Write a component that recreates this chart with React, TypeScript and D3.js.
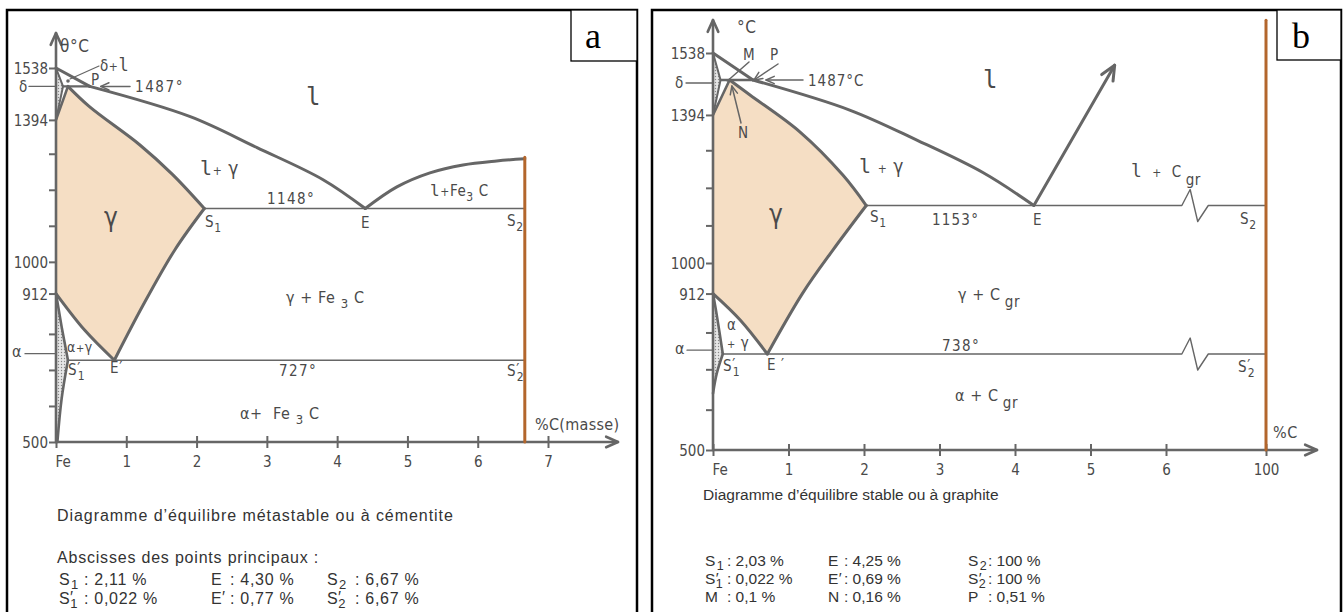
import { useEffect, useRef } from "react";
import * as d3 from "d3";

type Pt = [number, number];
type Part = string | { t: string; dy?: number; dx?: number; size?: number; font?: string };

// ---------- (a) metastable diagram, Fe - Fe3C ----------
const metaCarbonTicks = [0, 1, 2, 3, 4, 5, 6, 7];
const metaCarbonNames = ["Fe", "1", "2", "3", "4", "5", "6", "7"];
const metaTempTicks = [1538, 1394, 1000, 912, 500];
const metaTempMinor = [1300, 1200, 1100, 800, 700, 600];
const metaDelta: Pt[] = [[0, 1538], [0.1, 1487], [0, 1394]];
const metaGammaEdge: Pt[] = [[0, 1394], [0.17, 1487]];
const metaPeritectic: Pt[] = [[0.1, 1487], [0.48, 1487]];
const metaLiquidusTop: Pt[] = [[0, 1538], [0.48, 1487]];
const metaLiquidus: Pt[] = [[0.48, 1487], [1.91, 1403], [2.86, 1317], [3.8, 1228], [4.4, 1148]];
const metaLiquidusFe3C: Pt[] = [[4.4, 1148], [4.85, 1208], [5.32, 1247], [5.79, 1269], [6.27, 1280], [6.67, 1286]];
const metaSolidus: Pt[] = [[0.17, 1487], [0.48, 1430], [1.19, 1325], [1.66, 1242], [2.11, 1148]];
const metaAcm: Pt[] = [[2.11, 1148], [1.69, 1033], [1.24, 880], [0.83, 727]];
const metaA3: Pt[] = [[0, 912], [0.41, 810], [0.83, 727]];
const metaAlphaUpper: Pt[] = [[0, 912], [0.08, 820], [0.17, 727]];
const metaAlphaLower: Pt[] = [[0.17, 727], [0.08, 620], [0.02, 500]];
const metaEutectic: Pt[] = [[2.11, 1148], [6.67, 1148]];
const metaEutectoid: Pt[] = [[0.17, 727], [6.67, 727]];
const metaCementite: Pt[] = [[6.67, 500], [6.67, 1290]];
const metaPoints = [
  ["S", "1", "", ": 2,11 %"], ["E", "", "", ": 4,30 %"], ["S", "2", "", ": 6,67 %"],
  ["S", "1", "′", ": 0,022 %"], ["E", "", "′", ": 0,77 %"], ["S", "2", "′", ": 6,67 %"],
];

// ---------- (b) stable diagram, Fe - graphite ----------
const stableCarbonTicks = [0, 1, 2, 3, 4, 5, 6, 100];
const stableCarbonNames = ["Fe", "1", "2", "3", "4", "5", "6", "100"];
const stableTempTicks = [1538, 1394, 1000, 912, 500];
const stableTempMinor = [1300, 1200, 1100, 800, 700, 600];
const stableDelta: Pt[] = [[0, 1538], [0.1, 1487], [0, 1394]];
const stableGammaEdge: Pt[] = [[0, 1394], [0.22, 1487]];
const stablePeritectic: Pt[] = [[0.1, 1487], [0.53, 1487]];
const stableLiquidusTop: Pt[] = [[0, 1538], [0.53, 1487]];
const stableLiquidus: Pt[] = [[0.53, 1487], [1.81, 1407], [2.7, 1327], [3.58, 1240], [4.25, 1153]];
const stableLiquidusGraphite: Pt[] = [[4.25, 1153], [5.32, 1515]];
const stableSolidus: Pt[] = [[0.22, 1487], [0.49, 1447], [1.15, 1349], [1.72, 1234], [2.03, 1153]];
const stableAcm: Pt[] = [[2.03, 1153], [1.59, 1035], [1.19, 914], [0.72, 738]];
const stableA3: Pt[] = [[0, 912], [0.36, 836], [0.72, 738]];
const stableAlphaUpper: Pt[] = [[0, 912], [0.05, 850], [0.13, 738]];
const stableAlphaLower: Pt[] = [[0.13, 738], [0.05, 690], [0, 640]];
const stableEutectic: Pt[] = [[2.03, 1153], [100, 1153]];
const stableEutectoid: Pt[] = [[0.13, 738], [100, 738]];
const stableBreak = [6.21, 6.32, 6.42, 6.56];
const stableGraphite: Pt[] = [[100, 500], [100, 1600]];
const stablePoints = [
  ["S", "1", "", ": 2,03 %"], ["E", "", "", ": 4,25 %"], ["S", "2", "", ": 100 %"],
  ["S", "1", "′", ": 0,022 %"], ["E", "", "′", ": 0,69 %"], ["S", "2", "′", ": 100 %"],
  ["M", "", "", ": 0,1 %"], ["N", "", "", ": 0,16 %"], ["P", "", "", ": 0,51 %"],
];

const FONT = "'DejaVu Sans Condensed', 'DejaVu Sans', sans-serif";
const MONO = "'DejaVu Sans Mono', monospace";
const CAPTION = "'Liberation Sans', Arial, sans-serif";
const INK = "#4a4a4a";
const LINE = "#666";
const TAN = "#f5dec4";
const BROWN = "#b3662c";

const sub = (t: string, size = 12, dy = 5): Part => ({ t, dy, size });
const ell = (size?: number): Part => ({ t: "l", font: MONO, size });

function label(g: any, x: number, y: number, parts: Part[], size = 15, font = FONT, fill = INK, spacing = 0.6) {
  const t = g.append("text").attr("x", x).attr("y", y).attr("font-family", font)
    .attr("font-size", size).attr("fill", fill).attr("letter-spacing", spacing)
    .style("white-space", "pre");
  let shift = 0;
  parts.forEach((p) => {
    const q = typeof p === "string" ? { t: p } : p;
    const s = t.append("tspan").attr("dy", (q.dy ?? 0) - shift).text(q.t);
    if (q.dx) s.attr("dx", q.dx);
    if (q.size) s.attr("font-size", q.size);
    if (q.font) s.attr("font-family", q.font);
    shift = q.dy ?? 0;
  });
  return t;
}

function path(g: any, d: string | null, w: number, color = LINE, fill = "none") {
  return g.append("path").attr("d", d ?? "").attr("fill", fill).attr("stroke", color)
    .attr("stroke-width", w).attr("stroke-linejoin", "round").attr("stroke-linecap", "round");
}

function arrowHead(g: any, tx: number, ty: number, angle: number, len = 10, w = 2) {
  const s = 0.42;
  const p1 = [tx - len * Math.cos(angle - s), ty - len * Math.sin(angle - s)];
  const p2 = [tx - len * Math.cos(angle + s), ty - len * Math.sin(angle + s)];
  path(g, `M${p1[0]},${p1[1]}L${tx},${ty}L${p2[0]},${p2[1]}`, w);
}

function arrow(g: any, from: number[], to: number[], w = 1.5, len = 9) {
  path(g, `M${from[0]},${from[1]}L${to[0]},${to[1]}`, w);
  arrowHead(g, to[0], to[1], Math.atan2(to[1] - from[1], to[0] - from[0]), len, w);
}

function gens(x: any, y: any) {
  const straight = d3.line<Pt>().x((d) => x(d[0])).y((d) => y(d[1]));
  const smooth = d3.line<Pt>().x((d) => x(d[0])).y((d) => y(d[1])).curve(d3.curveCatmullRom.alpha(0.5));
  return { line: (p: Pt[]) => straight(p) as string, curve: (p: Pt[]) => smooth(p) as string };
}

const closed = (parts: string[]) => parts.map((p, i) => (i ? p.replace(/^M/, "L") : p)).join("") + "Z";

function frame(g: any, left: number, right: number, boxLeft: number, boxBottom: number, letter: string, letterX: number) {
  g.append("rect").attr("x", left).attr("y", 10).attr("width", right - left).attr("height", 640)
    .attr("fill", "#fff").attr("stroke", "#000").attr("stroke-width", 2.5);
  g.append("rect").attr("x", boxLeft).attr("y", 10).attr("width", right - boxLeft).attr("height", boxBottom - 10)
    .attr("fill", "#fff").attr("stroke", "#000").attr("stroke-width", 1.3);
  g.append("text").attr("x", letterX).attr("y", 48).attr("font-family", "'Liberation Serif', serif")
    .attr("font-size", 36).attr("fill", "#000").text(letter);
}

function axes(g: any, x: any, y: any, carbon: number[], names: string[], temps: number[], minor: number[], tipTop: number, tipRight: number) {
  const x0 = x(0), y0 = y(500);
  const left = g.append("g").attr("transform", `translate(${x0},0)`)
    .call(d3.axisLeft(y).tickValues(temps).tickSize(7).tickFormat(d3.format("d") as any));
  const small = g.append("g").attr("transform", `translate(${x0},0)`)
    .call(d3.axisLeft(y).tickValues(minor).tickSize(7).tickFormat(() => ""));
  const bottom = g.append("g").attr("transform", `translate(0,${y0})`)
    .call(d3.axisBottom(x).tickValues(carbon).tickSize(6).tickFormat((_: any, i: number) => names[i]));
  [left, small, bottom].forEach((a: any) => {
    a.select(".domain").remove();
    a.selectAll("line").attr("stroke", LINE).attr("stroke-width", 2);
    a.selectAll("text").attr("font-family", FONT).attr("font-size", 15).attr("fill", INK);
  });
  left.selectAll("text").attr("x", -8).attr("dy", "0.37em");
  bottom.selectAll("line").attr("y1", -6).attr("y2", 6);
  bottom.selectAll("text").attr("y", 25).attr("dy", 0);
  bottom.selectAll("text").filter((_: any, i: number) => i === 0).attr("text-anchor", "start").attr("x", -1);
  path(g, `M${x0},${y0}V${tipTop}M${x0},${y0}H${tipRight}`, 2.6);
  arrowHead(g, x0, tipTop, -Math.PI / 2, 13, 2.6);
  arrowHead(g, tipRight, y0, 0, 13, 2.6);
}

function pointTable(g: any, pts: string[][], cols: number[], colon: number[], top: number, step: number, size: number, spacing: number) {
  pts.forEach((p, i) => {
    const c = i % 3, row = Math.floor(i / 3);
    const yy = top + row * step;
    const parts: Part[] = [p[0]];
    if (p[2]) parts.push({ t: p[2], dy: -1 });
    if (p[1]) parts.push({ t: p[1], dy: 4, dx: p[2] ? -3 : 1, size: size - 3 });
    label(g, cols[c], yy, parts, size, CAPTION, "#333", 0.3);
    label(g, cols[c] + colon[c], yy, [p[3]], size, CAPTION, "#333", spacing);
  });
}

function drawMeta(g: any) {
  const x = d3.scaleLinear().domain([0, 7]).range([56, 548]);
  const y = d3.scaleLinear().domain([500, 1538]).range([442, 68]);
  const { line, curve } = gens(x, y);
  frame(g, 7, 637, 571, 61, "a", 585);

  path(g, closed([line(metaGammaEdge), curve(metaSolidus), curve(metaAcm), curve([...metaA3].reverse()), line([[0, 912], [0, 1394]])]), 0, "none", TAN);
  path(g, closed([line(metaAlphaUpper), curve(metaAlphaLower), line([[0, 500], [0, 912]])]), 0, "none", "url(#dots)");
  path(g, closed([line(metaDelta)]), 0, "none", "url(#dots)");

  path(g, line(metaEutectic), 1.4);
  path(g, line(metaEutectoid), 1.4);

  path(g, line(metaLiquidusTop), 3);
  path(g, curve(metaLiquidus), 3);
  path(g, curve(metaLiquidusFe3C), 3);
  path(g, curve(metaSolidus), 3);
  path(g, curve(metaAcm), 3);
  path(g, curve(metaA3), 3);
  path(g, line(metaAlphaUpper), 2.6);
  path(g, curve(metaAlphaLower), 2.6);
  path(g, line(metaGammaEdge), 2.6);
  path(g, line(metaDelta), 2);
  path(g, line(metaPeritectic), 2.4);

  axes(g, x, y, metaCarbonTicks, metaCarbonNames, metaTempTicks, metaTempMinor, 33, 618);
  path(g, line(metaCementite), 3, BROWN);

  const yp = y(1487);
  label(g, 60, 52, ["θ°C"], 17);
  label(g, 19, yp + 6, ["δ"]);
  path(g, `M29,${yp}H${x(0)}`, 1.3);
  g.append("circle").attr("cx", 68).attr("cy", 81).attr("r", 1.8).attr("fill", LINE);
  path(g, "M70,79L99,66", 1.2);
  label(g, 100, 71, ["δ", { t: "+", size: 12 }, ell(17)]);
  label(g, 91, yp - 1, ["P"]);
  arrow(g, [130, yp], [x(0.48) + 11, yp]);
  label(g, 135, yp + 6, ["1487°"], 15, FONT, INK, 1.6);
  label(g, 306, 105, [ell(24)], 22);
  label(g, 200, 175, [ell(20), { t: "+", size: 12 }, " γ"], 19);
  label(g, 267, 204, ["1148°"], 15, FONT, INK, 1.4);
  label(g, 104, 226, ["γ"], 26);
  label(g, 205, 227, ["S", sub("1")]);
  label(g, 361, 228, ["E"]);
  label(g, 507, 226, ["S", sub("2")]);
  label(g, 430, 196, [ell(16), { t: "+", size: 12 }, "Fe", sub("3"), { t: " C" }]);
  label(g, 286, 303, ["γ + Fe ", sub("3", 13), { t: " C" }], 16);
  label(g, 67, 352, ["α", { t: "+", size: 11 }, "γ"], 14);
  label(g, 12, 357, ["α"], 16);
  path(g, `M25,${y(745)}H${x(0)}`, 1.3);
  label(g, 68, 375, ["S", { t: "′", dy: -1 }, { t: "1", dy: 5, dx: -3, size: 12 }]);
  label(g, 110, 373, ["E′"]);
  label(g, 279, 376, ["727°"], 15, FONT, INK, 1.4);
  label(g, 507, 376, ["S", { t: "′", dy: -1 }, { t: "2", dy: 5, dx: -3, size: 12 }]);
  label(g, 240, 419, ["α+  Fe ", sub("3", 13), { t: " C" }], 16);
  label(g, 535, 430, ["%C(masse)"], 16, FONT, INK, 0.3);

  label(g, 57, 521, ["Diagramme d’équilibre métastable ou à cémentite"], 16, CAPTION, "#333", 0.95);
  label(g, 57, 563, ["Abscisses des points principaux :"], 16, CAPTION, "#333", 0.8);
  pointTable(g, metaPoints, [59, 211, 327], [25, 19, 28], 585, 19, 16, 0.7);
}

function drawStable(g: any) {
  const x = d3.scaleLinear().domain([0, 7, 100]).range([713, 1241.5, 1266]);
  const y = d3.scaleLinear().domain([500, 738, 1000, 1487, 1538]).range([450, 354, 263, 80, 53]);
  const { line, curve } = gens(x, y);
  frame(g, 652, 1341, 1277, 60, "b", 1292);

  path(g, closed([line(stableGammaEdge), curve(stableSolidus), curve(stableAcm), curve([...stableA3].reverse()), line([[0, 912], [0, 1394]])]), 0, "none", TAN);
  path(g, closed([curve(stableAlphaUpper), curve(stableAlphaLower), line([[0, 640], [0, 912]])]), 0, "none", "url(#dots)");
  path(g, closed([line(stableDelta)]), 0, "none", "url(#dots)");

  const broken = (pts: Pt[]) => {
    const yy = y(pts[0][1]);
    const b = stableBreak.map((c) => x(c));
    return `M${x(pts[0][0])},${yy}H${b[0]}L${b[1]},${yy - 16}L${b[2]},${yy + 16}L${b[3]},${yy}H${x(pts[1][0])}`;
  };
  path(g, broken(stableEutectic), 1.4);
  path(g, broken(stableEutectoid), 1.4);

  path(g, line(stableLiquidusTop), 3);
  path(g, curve(stableLiquidus), 3);
  const gs = stableLiquidusGraphite.map((d) => [x(d[0]), y(d[1])]);
  arrow(g, gs[0], gs[1], 3, 16);
  path(g, curve(stableSolidus), 3);
  path(g, curve(stableAcm), 3);
  path(g, curve(stableA3), 3);
  path(g, curve(stableAlphaUpper), 2.6);
  path(g, curve(stableAlphaLower), 2.6);
  path(g, line(stableGammaEdge), 2.6);
  path(g, line(stableDelta), 2);
  path(g, line(stablePeritectic), 2.4);

  axes(g, x, y, stableCarbonTicks, stableCarbonNames, stableTempTicks, stableTempMinor, 20, 1317);
  path(g, line(stableGraphite), 3, BROWN);

  const yp = y(1487);
  label(g, 737, 33, ["°C"], 17);
  label(g, 675, yp + 8, ["δ"]);
  path(g, `M686,${yp + 3}H${x(0)}`, 1.3);
  label(g, 743, 60, ["M"]);
  path(g, `M749,62L${x(0.19)},${yp + 1}`, 1.5);
  label(g, 770, 60, ["P"]);
  arrow(g, [778, 64], [x(0.53) + 1, yp], 1.5);
  arrow(g, [803, yp], [x(0.53) + 13, yp], 1.5);
  label(g, 808, yp + 6, ["1487°C"], 15, FONT, INK, 1);
  label(g, 738, 138, ["N"]);
  arrow(g, [741, 123], [x(0.25), yp + 6], 1.5);
  label(g, 983, 88, [ell(24)], 22);
  label(g, 859, 173, [ell(20), " ", { t: "+", size: 12 }, " γ"], 19);
  label(g, 769, 223, ["γ"], 26);
  label(g, 870, 222, ["S", sub("1")]);
  label(g, 932, 225, ["1153°"], 15, FONT, INK, 1.2);
  label(g, 1033, 225, ["E"]);
  label(g, 1131, 177, [ell(18), "  ", { t: "+", size: 12 }, "  C", { t: "gr", dy: 8, dx: 4 }]);
  label(g, 1240, 224, ["S", sub("2")]);
  label(g, 958, 300, ["γ + C", { t: "gr", dy: 7, dx: 4, size: 15 }], 16);
  label(g, 727, 330, ["α"], 15);
  label(g, 727, 348, [{ t: "+", size: 11 }, " γ"], 15);
  label(g, 675, 354, ["α"], 16);
  path(g, `M687,${y(749)}H${x(0)}`, 1.3);
  label(g, 942, 351, ["738°"], 15, FONT, INK, 1.4);
  label(g, 723, 371, ["S", { t: "′", dy: -1 }, { t: "1", dy: 5, dx: -3, size: 12 }]);
  label(g, 767, 370, ["E ′"]);
  label(g, 1238, 372, ["S", { t: "′", dy: -1 }, { t: "2", dy: 5, dx: -3, size: 12 }]);
  label(g, 955, 401, ["α + C", { t: "gr", dy: 7, dx: 4, size: 15 }], 16);
  label(g, 1273, 438, ["%C"], 16);

  label(g, 703, 500, ["Diagramme d’équilibre stable ou à graphite"], 15.5, CAPTION, "#333", 0);
  pointTable(g, stablePoints, [705, 828, 968], [22, 16, 20], 566, 18, 15.5, 0);
}

export default function App() {
  const ref = useRef<SVGSVGElement>(null);
  useEffect(() => {
    const svg = d3.select(ref.current);
    svg.selectAll("*").remove();
    const pat = svg.append("defs").append("pattern").attr("id", "dots")
      .attr("width", 3).attr("height", 3).attr("patternUnits", "userSpaceOnUse");
    pat.append("rect").attr("width", 3).attr("height", 3).attr("fill", "#e6e6e6");
    pat.append("circle").attr("cx", 1.5).attr("cy", 1.5).attr("r", 0.7).attr("fill", "#888");
    drawMeta(svg.append("g"));
    drawStable(svg.append("g"));
  }, []);
  return (
    <svg ref={ref} width={1343} height={612}
      style={{ position: "absolute", left: 0, top: 0, background: "#fff" }} />
  );
}
